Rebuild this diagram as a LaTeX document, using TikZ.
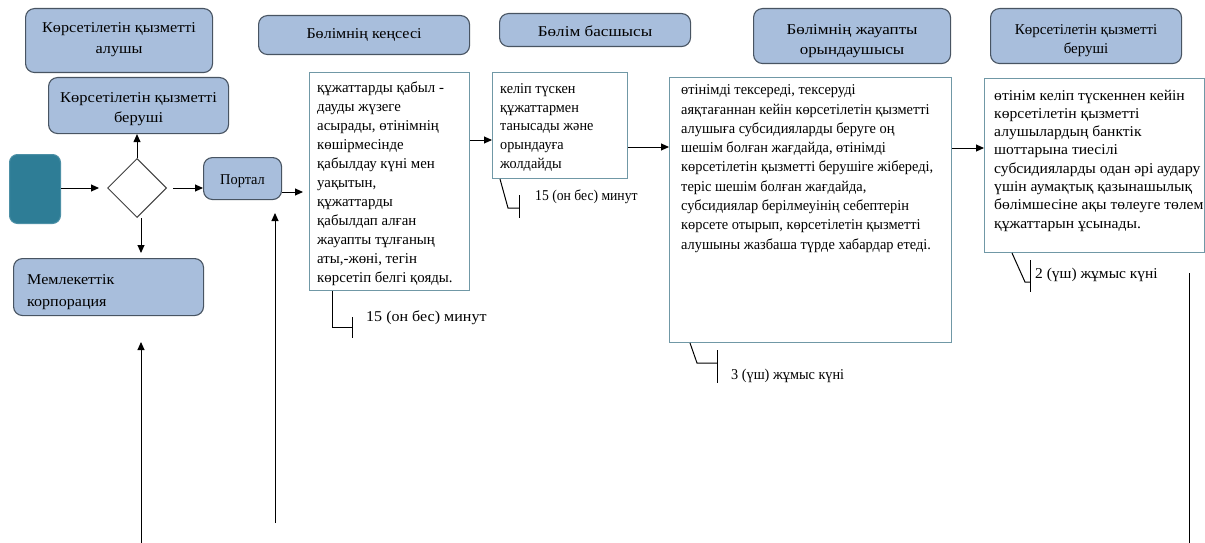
\documentclass[tikz,border=0pt]{standalone}
\usepackage{fontspec}
\usepackage{graphicx}
\setmainfont{Liberation Serif}
\usetikzlibrary{arrows.meta,shapes.geometric,calc}
\definecolor{hdrfill}{RGB}{168,190,220}
\definecolor{hdrline}{RGB}{72,84,98}
\definecolor{boxline}{RGB}{112,152,166}
\definecolor{tealfill}{RGB}{46,125,150}
% #1 vertical shift, #2 line spacing, #3 horizontal scale, #4 column type, #5 lines
\newcommand{\tx}[5]{\raisebox{#1}[\height][\depth]{\fontsize{15}{#2}\selectfont\scalebox{#3}[1]{\begin{tabular}{@{}#4@{}}#5\end{tabular}}}}
\begin{document}
\begin{tikzpicture}[x=1pt,y=-1pt,
  font=\fontsize{15}{19}\selectfont,
  hdr/.style={draw=hdrline, line width=1.1pt, fill=hdrfill, rounded corners=9pt,
    inner sep=0pt, anchor=north west},
  cbox/.style={draw=boxline, line width=1pt, fill=white, anchor=north west, inner sep=0pt},
  btxt/.style={anchor=north west, inner sep=0pt},
  arr/.style={draw=black, line width=1pt, -{Triangle[length=8pt,width=7pt]}},
  ln/.style={draw=black, line width=1pt},
  note/.style={anchor=west, inner sep=0pt}]
\useasboundingbox (0,0) rectangle (1205,543);

% headers
\node[hdr, minimum width=187pt, minimum height=64pt] (h1) at (25,8) {\tx{1.5pt}{21}{1.08}{c}{Көрсетілетін қызметті\\алушы}};
\node[hdr, minimum width=180pt, minimum height=56pt] (h2) at (48,77) {\tx{-3pt}{20}{1.1}{c}{Көрсетілетін қызметті\\беруші}};
\node[hdr, minimum width=211pt, minimum height=39pt] (h3) at (258,15) {\tx{0pt}{19}{1.07}{c}{Бөлімнің кеңсесі}};
\node[hdr, minimum width=191pt, minimum height=33pt] (h4) at (499,13) {\tx{-3pt}{19}{1.14}{c}{Бөлім басшысы}};
\node[hdr, minimum width=197pt, minimum height=55pt] (h5) at (753,8) {\tx{-4pt}{20}{1.13}{c}{Бөлімнің жауапты\\орындаушысы}};
\node[hdr, minimum width=191pt, minimum height=55pt] (h6) at (990,8) {\tx{-4pt}{19.5}{1.0}{c}{Көрсетілетін қызметті\\беруші}};
\node[hdr, minimum width=78pt, minimum height=42pt] (portal) at (203,157) {\tx{-2pt}{19}{0.96}{c}{Портал}};
\node[hdr, minimum width=190pt, minimum height=57pt] (corp) at (13,258) {};
\node[anchor=west, inner sep=0pt] (corpt) at ([xshift=14pt, yshift=-4.5pt]corp.west) {\tx{0pt}{22}{1.07}{l}{Мемлекеттік\\корпорация}};

% start and decision
\node[draw=tealfill!85!white, fill=tealfill, rounded corners=8pt, line width=1pt,
  minimum width=51pt, minimum height=69pt, anchor=north west, inner sep=0pt] (start) at (9,154) {};
\node[diamond, draw=black!75, line width=1pt, fill=white, aspect=1,
  minimum width=59pt, minimum height=59pt, inner sep=0pt] (dec) at (137,188) {};

% content boxes
\node[cbox, minimum width=160pt, minimum height=218pt] (b1) at (309,72) {};
\node[cbox, minimum width=135pt, minimum height=106pt] (b2) at (492,72) {};
\node[cbox, minimum width=282pt, minimum height=265pt] (b3) at (669,77) {};
\node[cbox, minimum width=220pt, minimum height=174pt] (b4) at (984,78) {};

\node[btxt] (t1) at (317,79) {\tx{0pt}{19}{0.99}{l}{құжаттарды қабыл -\\дауды жүзеге\\асырады, өтінімнің\\көшірмесінде\\қабылдау күні мен\\уақытын,\\құжаттарды\\қабылдап алған\\жауапты тұлғаның\\аты,-жөні, тегін\\көрсетіп белгі қояды.}};
\node[btxt] (t2) at (500,80) {\tx{0pt}{18.8}{0.95}{l}{келіп түскен\\құжаттармен\\танысады және\\орындауға\\жолдайды}};
\node[btxt] (t3) at (681,81) {\tx{0pt}{19.3}{0.96}{l}{өтінімді тексереді,  тексеруді\\аяқтағаннан кейін көрсетілетін  қызметті\\алушыға субсидияларды  беруге оң\\шешім болған жағдайда, өтінімді\\көрсетілетін қызметті берушіге жібереді,\\теріс шешім  болған жағдайда,\\субсидиялар берілмеуінің  себептерін\\көрсете отырып, көрсетілетін  қызметті\\алушыны жазбаша  түрде хабардар етеді.}};
\node[btxt] (t4) at (994,87) {\tx{0pt}{18.3}{1.04}{l}{өтінім келіп түскеннен кейін\\көрсетілетін қызметті\\алушылардың банктік\\шоттарына тиесілі\\субсидияларды одан әрі аудару\\үшін аумақтық қазынашылық\\бөлімшесіне ақы төлеуге төлем\\құжаттарын ұсынады.}};

% arrows
\draw[arr, shorten >=8pt] (start.east |- 0,188) -- (dec.west);
\draw[arr, shorten <=6pt] (dec.east) -- (portal.west |- 0,188);
\draw[arr] (dec.north) -- (dec.north |- h2.south);
\draw[arr, shorten >=5pt] (141,218) -- (corp.north -| 141,0);
\draw[arr, shorten >=6pt] (portal.east |- 0,192) -- (b1.west |- 0,192);
\draw[arr] (b1.east |- 0,140) -- (b2.west |- 0,140);
\draw[arr] (b2.east |- 0,147) -- (b3.west |- 0,147);
\draw[arr] (b3.east |- 0,148) -- (b4.west |- 0,148);

% free lines
\coordinate (u1) at (141,543);
\coordinate (u1t) at (141,342);
\coordinate (u2) at (275,523);
\coordinate (u2t) at (275,213);
\coordinate (r1) at (1189,273);
\coordinate (r2) at (1189,543);
\draw[arr] (u1) -- (u1t);
\draw[arr] (u2) -- (u2t);
\draw[ln] (r1) -- (r2);

% time callouts
\draw[ln] (b1.south west -| 332,0) -- (332,327) -- (352,327);
\draw[ln] (352,317) -- (352,338);
\node[note] (n1) at (366,318) {\tx{0pt}{19}{1.07}{l}{15 (он бес) минут}};
\draw[ln] (b2.south west -| 500,0) -- (508,208) -- (519,208);
\draw[ln] (519,195) -- (519,218);
\node[note] (n2) at (535,197) {\tx{0pt}{19}{0.91}{l}{15 (он бес) минут}};
\draw[ln] (b3.south west -| 690,0) -- (697,363) -- (717,363);
\draw[ln] (717,350) -- (717,383);
\node[note] (n3) at (731,376) {\tx{0pt}{19}{0.95}{l}{3 (үш) жұмыс күні}};
\draw[ln] (b4.south west -| 1012,0) -- (1025,282) -- (1030,282);
\draw[ln] (1030,260) -- (1030,292);
\node[note] (n4) at (1035,275) {\tx{0pt}{19}{1.03}{l}{2 (үш) жұмыс күні}};
\end{tikzpicture}
\end{document}
